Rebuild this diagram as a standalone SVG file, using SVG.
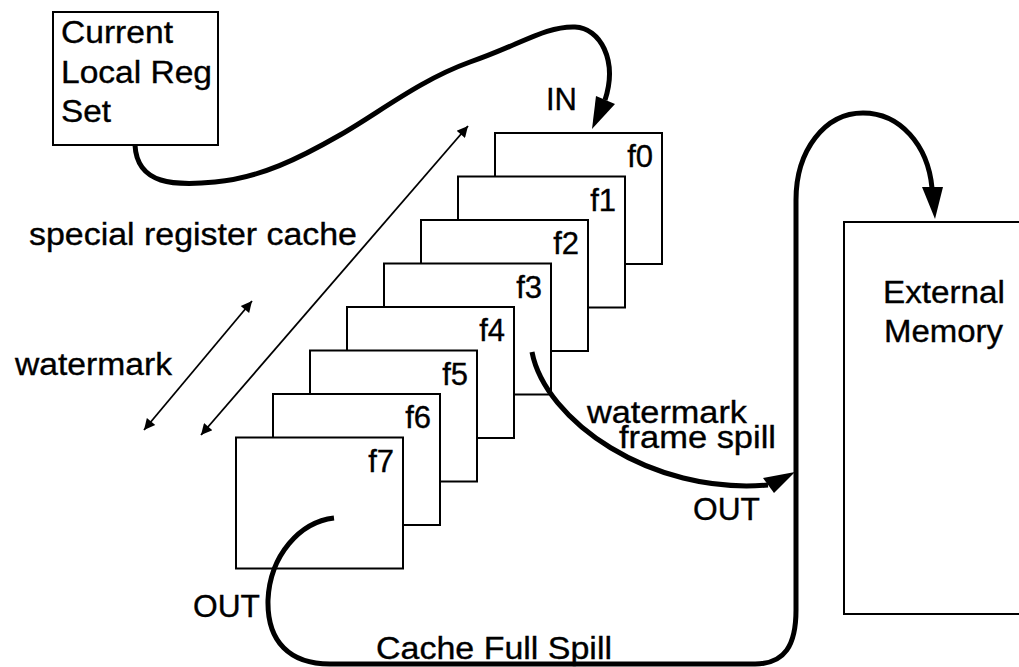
<svg xmlns="http://www.w3.org/2000/svg" width="1019" height="667" viewBox="0 0 1019 667">
<style>
  .box { fill: #fff; stroke: #000; stroke-width: 2; }
  .t { font-family: "Liberation Sans", Arial, sans-serif; font-size: 31px; fill: #000; stroke: #000; stroke-width: 0.35; }
  .thick { fill: none; stroke: #000; stroke-width: 5; }
  .thin { fill: none; stroke: #000; stroke-width: 1.8; marker-start: url(#sa); marker-end: url(#sa); }
  .head { fill: #000; stroke: none; }
</style>
<defs>
  <marker id="sa" viewBox="0 0 10 10" refX="10" refY="5" markerUnits="userSpaceOnUse" markerWidth="18" markerHeight="11" orient="auto-start-reverse">
    <path d="M0,0 L10,5 L0,10 z" fill="#000"/>
  </marker>
</defs>
<rect width="1019" height="667" fill="#fff"/>

<g id="current-local-reg-set">
  <rect class="box" x="53" y="12" width="165" height="133"/>
  <text class="t" x="61" y="43" textLength="112" lengthAdjust="spacingAndGlyphs">Current</text>
  <text class="t" x="61" y="83" textLength="151" lengthAdjust="spacingAndGlyphs">Local Reg</text>
  <text class="t" x="61" y="122" textLength="50" lengthAdjust="spacingAndGlyphs">Set</text>
</g>

<g id="frame-f0"><rect class="box" x="495" y="133" width="167" height="131"/><text class="t" x="653" y="167" text-anchor="end">f0</text></g>
<g id="frame-f1"><rect class="box" x="458" y="176.5" width="167" height="131"/><text class="t" x="616" y="210.5" text-anchor="end">f1</text></g>
<g id="frame-f2"><rect class="box" x="421" y="220" width="167" height="131"/><text class="t" x="579" y="254" text-anchor="end">f2</text></g>
<g id="frame-f3"><rect class="box" x="384" y="263.5" width="167" height="131"/><text class="t" x="542" y="297.5" text-anchor="end">f3</text></g>
<g id="frame-f4"><rect class="box" x="347" y="307" width="167" height="131"/><text class="t" x="505" y="341" text-anchor="end">f4</text></g>
<g id="frame-f5"><rect class="box" x="310" y="350.5" width="167" height="131"/><text class="t" x="468" y="384.5" text-anchor="end">f5</text></g>
<g id="frame-f6"><rect class="box" x="273" y="394" width="167" height="131"/><text class="t" x="431" y="428" text-anchor="end">f6</text></g>
<g id="frame-f7"><rect class="box" x="236" y="437.5" width="167" height="131"/><text class="t" x="394" y="471.5" text-anchor="end">f7</text></g>

<g id="external-memory">
  <rect class="box" x="844" y="222" width="200" height="392"/>
  <text class="t" x="883" y="303" textLength="122" lengthAdjust="spacingAndGlyphs">External</text>
  <text class="t" x="884" y="342" textLength="119" lengthAdjust="spacingAndGlyphs">Memory</text>
</g>

<g id="connectors">
  <!-- IN -->
  <path class="thick" d="M135,145 C137,185 175,186 215,182 C260,178 300,158 340,135 C380,112 420,80 470,62 C520,45 545,26 575,27 C600,28 618,60 605,100"/>
  <polygon class="head" points="592,129 596,96 615,104"/>
  <!-- watermark frame spill -->
  <path class="thick" d="M532,352 C545,420 650,495 768,485"/>
  <polygon class="head" points="795,472 763,478 774,493"/>
  <!-- cache full spill -->
  <path class="thick" d="M334,518 C300,522 270,555 268,600 C267,642 290,664 330,664 L755,664 C785,664 796,645 796,610 L796,200 C796,150 825,113 863,113 C900,113 928,145 932,188"/>
  <polygon class="head" points="935,219 922,187 943,187"/>
  <!-- thin double arrows -->
  <line class="thin" x1="201" y1="435" x2="468" y2="126"/>
  <line class="thin" x1="144" y1="430" x2="252" y2="301"/>
</g>

<g id="labels">
  <text class="t" x="546" y="110" textLength="31" lengthAdjust="spacingAndGlyphs">IN</text>
  <text class="t" x="29" y="245" textLength="328" lengthAdjust="spacingAndGlyphs">special register cache</text>
  <text class="t" x="15" y="375" textLength="157" lengthAdjust="spacingAndGlyphs">watermark</text>
  <text class="t" x="587" y="423" textLength="160" lengthAdjust="spacingAndGlyphs">watermark</text>
  <text class="t" x="619" y="448" textLength="157" lengthAdjust="spacingAndGlyphs">frame spill</text>
  <text class="t" x="693" y="520" textLength="67" lengthAdjust="spacingAndGlyphs">OUT</text>
  <text class="t" x="193" y="617" textLength="67" lengthAdjust="spacingAndGlyphs">OUT</text>
  <text class="t" x="376" y="659" textLength="236" lengthAdjust="spacingAndGlyphs">Cache Full Spill</text>
</g>
</svg>
